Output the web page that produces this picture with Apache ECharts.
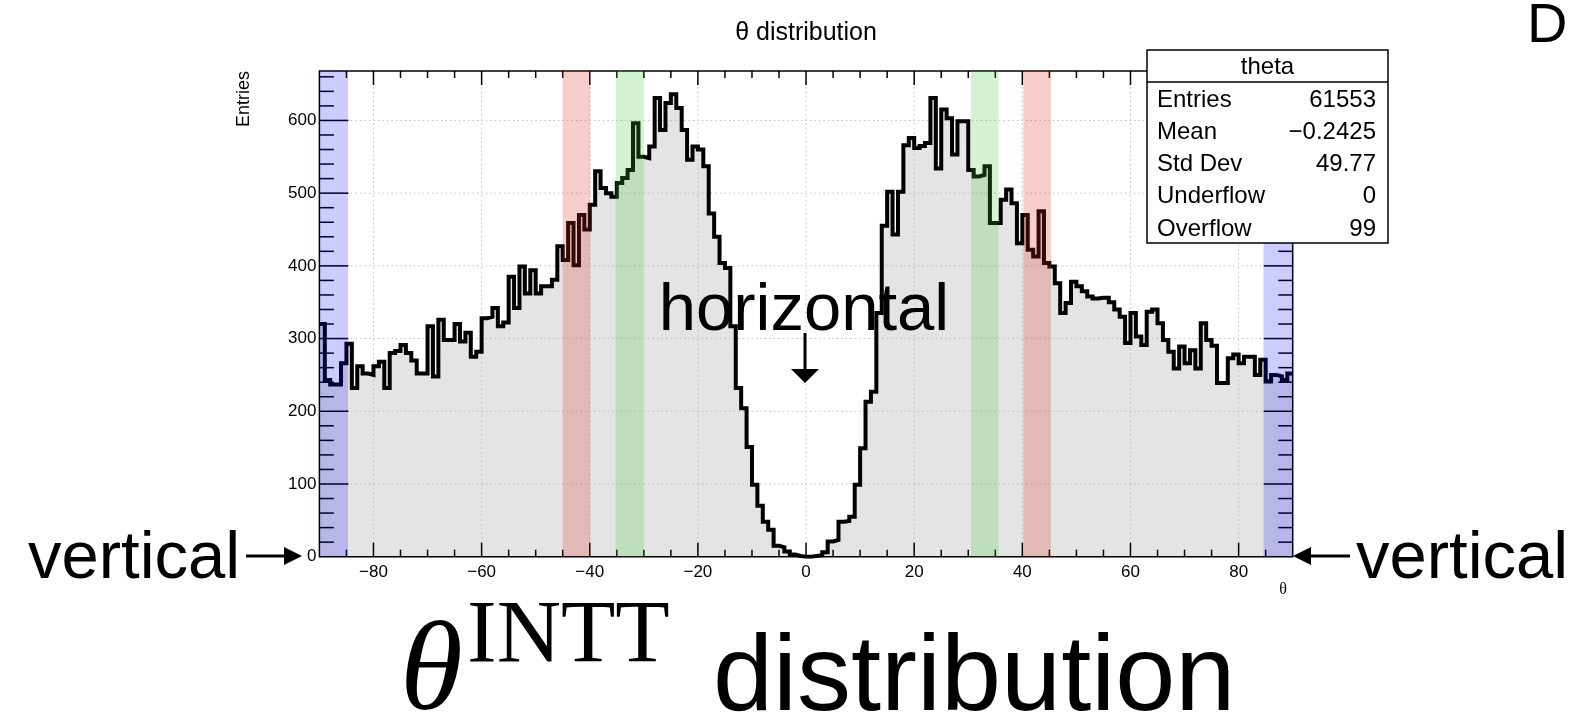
<!DOCTYPE html>
<html>
<head>
<meta charset="utf-8">
<title>θ distribution</title>
<script src="https://cdn.jsdelivr.net/npm/echarts@6/dist/echarts.min.js"></script>
<style>
  html, body { margin: 0; padding: 0; background: #fff; }
  #chart { width: 1573px; height: 720px; }
</style>
</head>
<body>
<div id="chart"></div>
<script>
// θ histogram: 180 bins of 1° between −90° and 90°
const THETA_MIN = -90;
const THETA_MAX = 90;
const BIN_WIDTH = 1;
const Y_MAX = 668;

// entries per bin, starting at the −90° bin
const counts = [
  320, 243, 237, 237, 266, 293, 232, 262, 252, 250,
  262, 268, 232, 280, 283, 291, 280, 270, 252, 252,
  317, 248, 326, 298, 298, 320, 296, 308, 275, 282,
  328, 330, 342, 317, 322, 385, 342, 399, 362, 394,
  362, 372, 372, 381, 427, 408, 459, 401, 470, 450,
  484, 530, 507, 500, 495, 514, 521, 532, 596, 550,
  548, 564, 631, 587, 624, 636, 617, 587, 546, 564,
  560, 537, 472, 440, 404, 397, 317, 232, 204, 151,
  99, 70, 48, 37, 15, 13, 7, 3, 1, 0,
  0, 1, 2, 6, 21, 23, 48, 49, 55, 99,
  149, 213, 227, 335, 455, 502, 443, 502, 566, 576,
  562, 565, 569, 631, 534, 615, 603, 553, 599, 599,
  532, 523, 525, 537, 459, 459, 491, 505, 486, 431,
  470, 422, 413, 475, 404, 399, 376, 335, 349, 378,
  372, 365, 358, 355, 356, 356, 350, 340, 330, 294,
  335, 303, 291, 337, 340, 321, 298, 282, 259, 289,
  266, 284, 259, 321, 298, 290, 239, 239, 273, 278,
  266, 275, 275, 250, 271, 241, 250, 248, 243, 252
];

const xTickLabels = [-80, -60, -40, -20, 0, 20, 40, 60, 80];
const yTickLabels = [0, 100, 200, 300, 400, 500, 600];

// shaded θ ranges
const blueBands = [[-90, -84.7], [84.6, 90]];
const redBands = [[-45, -39.9], [40.2, 45.3]];
const greenBands = [[-35.2, -30], [30.5, 35.6]];

// statistics box
const statsTitle = 'theta';
const statsNames = ['Entries', 'Mean', 'Std Dev', 'Underflow', 'Overflow'];
const statsValues = ['61553', '\u22120.2425', '49.77', '0', '99'];

const SANS = "'Liberation Sans', Arial, Helvetica, sans-serif";
const SERIF = "'Liberation Serif', 'Times New Roman', Times, serif";

// step outline: one point at each bin's low edge, plus the closing edge
const stepData = counts.map((c, i) => [THETA_MIN + i * BIN_WIDTH, c]);
stepData.push([THETA_MAX, counts[counts.length - 1]]);

const fmtMinus = v => (v < 0 ? '\u2212' + Math.abs(v) : String(v));

function frameBox(api) {
  const x0 = api.coord([THETA_MIN, 0])[0];
  const x1 = api.coord([THETA_MAX, 0])[0];
  const y0 = api.coord([THETA_MIN, 0])[1];
  const y1 = api.coord([THETA_MIN, Y_MAX])[1];
  return { x0, x1, y0, y1 };
}

// dotted grid at the labelled ticks
function renderGrid(params, api) {
  const b = frameBox(api);
  const children = [];
  const style = { stroke: '#bcbcbc', lineWidth: 1, lineDash: [1.5, 3] };
  xTickLabels.forEach(v => {
    const x = api.coord([v, 0])[0];
    children.push({ type: 'line', shape: { x1: x, y1: b.y0, x2: x, y2: b.y1 }, style });
  });
  yTickLabels.forEach(v => {
    if (v === 0) return;
    const y = api.coord([THETA_MIN, v])[1];
    children.push({ type: 'line', shape: { x1: b.x0, y1: y, x2: b.x1, y2: y }, style });
  });
  return { type: 'group', children };
}

// frame with inward ticks on all four sides
function renderFrame(params, api) {
  const b = frameBox(api);
  const children = [];
  const st = { stroke: '#000', lineWidth: 1.5 };
  const seg = (xa, ya, xb, yb) => children.push({ type: 'line', shape: { x1: xa, y1: ya, x2: xb, y2: yb }, style: st });
  for (let v = THETA_MIN + 5; v < THETA_MAX; v += 5) {
    const x = api.coord([v, 0])[0];
    const len = xTickLabels.includes(v) ? 14 : 7;
    seg(x, b.y0, x, b.y0 - len);
    seg(x, b.y1, x, b.y1 + len);
  }
  for (let v = 20; v < Y_MAX; v += 20) {
    const y = api.coord([THETA_MIN, v])[1];
    const len = yTickLabels.includes(v) ? 29 : 14.5;
    seg(b.x0, y, b.x0 + len, y);
    seg(b.x1, y, b.x1 - len, y);
  }
  children.push({
    type: 'rect',
    shape: { x: b.x0, y: b.y1, width: b.x1 - b.x0, height: b.y0 - b.y1 },
    style: { fill: 'none', stroke: '#000', lineWidth: 1.5 }
  });
  return { type: 'group', children };
}

// translucent bands laid over the histogram
function renderBands(params, api) {
  const children = [];
  const add = (list, color) => list.forEach(([a, c]) => {
    const p0 = api.coord([a, Y_MAX]);
    const p1 = api.coord([c, 0]);
    children.push({ type: 'rect', shape: { x: p0[0], y: p0[1], width: p1[0] - p0[0], height: p1[1] - p0[1] }, style: { fill: color } });
  });
  add(blueBands, 'rgba(0,0,255,0.2)');
  add(redBands, 'rgba(225,45,25,0.23)');
  add(greenBands, 'rgba(60,200,40,0.22)');
  return { type: 'group', children };
}

const chart = echarts.init(document.getElementById('chart'), null, { renderer: 'canvas' });

const graphics = [];
// page title
graphics.push({ type: 'text', z: 100, style: { text: '\u03b8 distribution', x: 806, y: 33, font: '25px ' + SANS, fill: '#000', align: 'center', verticalAlign: 'middle' } });
// partial heading at the top right
graphics.push({ type: 'text', z: 100, style: { text: 'D', x: 1527, y: 27, font: '56px ' + SANS, fill: '#000', align: 'left', verticalAlign: 'middle' } });
// axis titles
graphics.push({ type: 'text', z: 100, rotation: Math.PI / 2, x: 244, y: 71, style: { text: 'Entries', x: 0, y: 0, font: '18px ' + SANS, fill: '#000', align: 'right', verticalAlign: 'middle' } });
graphics.push({ type: 'text', z: 100, style: { text: '\u03b8', x: 1283, y: 590, font: '16px ' + SERIF, fill: '#000', align: 'center', verticalAlign: 'middle' } });

// statistics box
const box = { x: 1147, y: 50, w: 241, h: 193, sep: 82 };
graphics.push({ type: 'rect', z: 100, shape: { x: box.x, y: box.y, width: box.w, height: box.h }, style: { fill: '#fff', stroke: '#000', lineWidth: 1.5 } });
graphics.push({ type: 'line', z: 101, shape: { x1: box.x, y1: box.sep, x2: box.x + box.w, y2: box.sep }, style: { stroke: '#000', lineWidth: 1.5 } });
graphics.push({ type: 'text', z: 101, style: { text: statsTitle, x: box.x + box.w / 2, y: 67, font: '24px ' + SANS, fill: '#000', align: 'center', verticalAlign: 'middle' } });
const rowY = [100.5, 132, 164, 196.5, 229];
statsNames.forEach((name, i) => {
  graphics.push({ type: 'text', z: 101, style: { text: name, x: box.x + 10, y: rowY[i], font: '24px ' + SANS, fill: '#000', align: 'left', verticalAlign: 'middle' } });
  graphics.push({ type: 'text', z: 101, style: { text: statsValues[i], x: box.x + box.w - 12, y: rowY[i], font: '24px ' + SANS, fill: '#000', align: 'right', verticalAlign: 'middle' } });
});

// annotations
graphics.push({ type: 'text', z: 100, style: { text: 'horizontal', x: 804, y: 312, font: '67px ' + SANS, fill: '#000', align: 'center', verticalAlign: 'middle' } });
graphics.push({ type: 'line', z: 100, shape: { x1: 805, y1: 333, x2: 805, y2: 372 }, style: { stroke: '#000', lineWidth: 3 } });
graphics.push({ type: 'polygon', z: 100, shape: { points: [[791, 369], [819, 369], [805, 383]] }, style: { fill: '#000' } });

graphics.push({ type: 'text', z: 100, style: { text: 'vertical', x: 28, y: 560, font: '67px ' + SANS, fill: '#000', align: 'left', verticalAlign: 'middle' } });
graphics.push({ type: 'line', z: 100, shape: { x1: 246, y1: 556, x2: 290, y2: 556 }, style: { stroke: '#000', lineWidth: 3 } });
graphics.push({ type: 'polygon', z: 100, shape: { points: [[284, 547], [302, 556], [284, 565]] }, style: { fill: '#000' } });

graphics.push({ type: 'text', z: 100, style: { text: 'vertical', x: 1356, y: 560, font: '67px ' + SANS, fill: '#000', align: 'left', verticalAlign: 'middle' } });
graphics.push({ type: 'line', z: 100, shape: { x1: 1305, y1: 556, x2: 1350, y2: 556 }, style: { stroke: '#000', lineWidth: 3 } });
graphics.push({ type: 'polygon', z: 100, shape: { points: [[1311, 547], [1293, 556], [1311, 565]] }, style: { fill: '#000' } });

// large caption
graphics.push({ type: 'text', z: 100, style: { text: '\u03b8', x: 400, y: 675, font: 'italic 128px ' + SERIF, fill: '#000', align: 'left', verticalAlign: 'middle' } });
graphics.push({ type: 'text', z: 100, style: { text: 'INTT', x: 467, y: 638, font: '89px ' + SERIF, fill: '#000', align: 'left', verticalAlign: 'middle' } });
graphics.push({ type: 'text', z: 100, style: { text: 'distribution', x: 713, y: 680, font: '108px ' + SANS, fill: '#000', align: 'left', verticalAlign: 'middle' } });

const option = {
  animation: false,
  backgroundColor: '#fff',
  grid: { left: 319.4, right: 280.3, top: 71, bottom: 163.3, containLabel: false, outerBoundsMode: 'none' },
  xAxis: {
    type: 'value', min: THETA_MIN, max: THETA_MAX, interval: 5,
    axisLine: { show: false }, axisTick: { show: false }, splitLine: { show: false },
    axisLabel: {
      margin: 7, color: '#000', fontSize: 17, fontFamily: SANS,
      formatter: v => (xTickLabels.includes(v) ? fmtMinus(v) : '')
    }
  },
  yAxis: {
    type: 'value', min: 0, max: Y_MAX, interval: 20,
    axisLine: { show: false }, axisTick: { show: false }, splitLine: { show: false },
    axisLabel: {
      margin: 3, color: '#000', fontSize: 17, fontFamily: SANS,
      formatter: v => (yTickLabels.includes(v) ? String(v) : '')
    }
  },
  series: [
    {
      name: 'fill', type: 'line', step: 'end', data: stepData, symbol: 'none', silent: true, z: 1,
      lineStyle: { width: 0, opacity: 0 },
      areaStyle: { color: '#e4e4e4', opacity: 1 }
    },
    {
      name: 'grid', type: 'custom', renderItem: renderGrid, data: [[0, 0]], silent: true, z: 2
    },
    {
      name: 'theta', type: 'line', step: 'end', data: stepData, symbol: 'none', silent: true, z: 3,
      lineStyle: { color: '#000', width: 4, join: 'miter', cap: 'butt' }
    },
    {
      name: 'frame', type: 'custom', renderItem: renderFrame, data: [[0, 0]], silent: true, z: 4
    },
    {
      name: 'bands', type: 'custom', renderItem: renderBands, data: [[0, 0]], silent: true, z: 5
    }
  ],
  graphic: { elements: graphics }
};

chart.setOption(option);
</script>
</body>
</html>
